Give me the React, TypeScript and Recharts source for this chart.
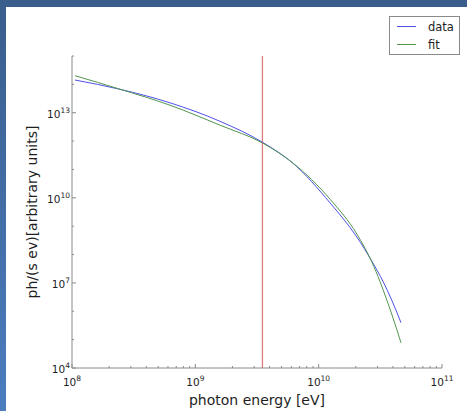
import React from 'react';
import { LineChart, Line, XAxis, YAxis, ReferenceLine } from 'recharts';

// ---- data (photon energy in eV, flux in ph/(s eV)) ----
const dataEnergy = [1.0575e8, 2.45e8, 6.232e8, 1.585e9, 3.517e9, 6.227e9, 1.2385e10, 2.039e10, 2.692e10, 3.343e10, 3.911e10, 4.652e10];
const dataFlux = [1.425e14, 6.699e13, 2.239e13, 4.986e12, 8.994e11, 1.622e11, 6.569e9, 4.156e8, 5.924e7, 1.077e7, 2.497e6, 3.956e5];
const fitEnergy = [1.0575e8, 2.45e8, 6.232e8, 1.585e9, 3.517e9, 6.227e9, 1.2385e10, 2.039e10, 2.692e10, 3.143e10, 3.516e10, 3.911e10, 4.652e10];
const fitFlux = [2.021e14, 6.752e13, 1.843e13, 3.634e12, 8.498e11, 1.648e11, 8.867e9, 5.302e8, 5.596e7, 1.112e7, 2.987e6, 8.015e5, 7.738e4];
const cutoffEnergy = 3.5e9;

const xDomain = [1e8, 1e11];
const yDomain = [1e4, 1e15];
const xMajorTicks = [1e8, 1e9, 1e10, 1e11];
const xMinorTicks = [
  2e8, 3e8, 4e8, 5e8, 6e8, 7e8, 8e8, 9e8,
  2e9, 3e9, 4e9, 5e9, 6e9, 7e9, 8e9, 9e9,
  2e10, 3e10, 4e10, 5e10, 6e10, 7e10, 8e10, 9e10,
];
const yMajorTicks = [1e4, 1e7, 1e10, 1e13];
const yMinorTicks = [1e5, 1e6, 1e8, 1e9, 1e11, 1e12, 1e14, 1e15];

const xLabel = 'photon energy [eV]';
const yLabel = 'ph/(s ev)[arbitrary units]';

const BLUE = '#5151ea';
const GREEN = '#519651';
const RED = '#e27c7c';
const AXIS = '#8a8a8a';
const FONT = '"DejaVu Sans", sans-serif';

const series = [
  { name: 'data', color: BLUE, energy: dataEnergy, flux: dataFlux },
  { name: 'fit', color: GREEN, energy: fitEnergy, flux: fitFlux },
];

const rows = (energy: number[], flux: number[]) =>
  energy.map((e, i) => ({ energy: e, flux: flux[i] }));

const xTicks = [...xMajorTicks, ...xMinorTicks];
const yTicks = [...yMajorTicks, ...yMinorTicks];

const Pow = ({ x, y, v, anchor }: any) => (
  <text x={x} y={y} textAnchor={anchor} fontSize={10.5} fill="#1e1e1e" fontFamily={FONT}>
    <tspan>10</tspan>
    <tspan dy={-5} fontSize={7.5}>{Math.round(Math.log10(v))}</tspan>
  </text>
);

const BottomTick = (props: any) => {
  const { x, y, payload } = props;
  const major = xMajorTicks.includes(payload.value);
  return (
    <g>
      <line x1={x} x2={x} y1={y} y2={y - (major ? 4 : 2)} stroke={AXIS} strokeWidth={1} />
      {major && <Pow x={x} y={y + 18} v={payload.value} anchor="middle" />}
    </g>
  );
};

const TopTick = (props: any) => {
  const { x, y, payload } = props;
  const major = xMajorTicks.includes(payload.value);
  return <line x1={x} x2={x} y1={y} y2={y + (major ? 4 : 2)} stroke={AXIS} strokeWidth={1} />;
};

const LeftTick = (props: any) => {
  const { x, y, payload } = props;
  const major = yMajorTicks.includes(payload.value);
  return (
    <g>
      <line x1={x} x2={x + (major ? 4 : 2)} y1={y} y2={y} stroke={AXIS} strokeWidth={1} />
      {major && <Pow x={x - 2} y={y + 5} v={payload.value} anchor="end" />}
    </g>
  );
};

const RightTick = (props: any) => {
  const { x, y, payload } = props;
  const major = yMajorTicks.includes(payload.value);
  return <line x1={x} x2={x - (major ? 4 : 2)} y1={y} y2={y} stroke={AXIS} strokeWidth={1} />;
};

const XLabel = ({ viewBox }: any) => (
  <text
    x={viewBox.x + viewBox.width / 2}
    y={viewBox.y + 37}
    textAnchor="middle"
    fontSize={14}
    fill="#1e1e1e"
    fontFamily={FONT}
  >
    {xLabel}
  </text>
);

const YLabel = ({ viewBox }: any) => {
  const cx = viewBox.x + 20;
  const cy = viewBox.y + viewBox.height / 2;
  return (
    <text
      x={cx}
      y={cy}
      transform={`rotate(-90 ${cx} ${cy})`}
      textAnchor="middle"
      dominantBaseline="central"
      fontSize={14}
      fill="#1e1e1e"
      fontFamily={FONT}
    >
      {yLabel}
    </text>
  );
};

export default function App() {
  return (
    <div style={{ position: 'absolute', left: 0, top: 0, width: 467, height: 411, overflow: 'hidden' }}>
      <div style={{ position: 'absolute', left: 0, top: 0, width: 467, height: 7, background: '#3a5e8c' }} />
      <div
        style={{
          position: 'absolute',
          left: 0,
          top: 0,
          width: 6,
          height: 411,
          background: 'linear-gradient(#3a5e8c, #4b7dbf)',
        }}
      />
      <div style={{ position: 'absolute', left: 6, top: 7, width: 461, height: 404, background: '#ffffff' }} />
      <div style={{ position: 'absolute', left: 0, top: 0 }}>
        <LineChart width={467} height={411} margin={{ top: 56, right: 25, left: 12, bottom: 13 }}>
          <XAxis
            xAxisId={0}
            type="number"
            dataKey="energy"
            scale="log"
            domain={xDomain}
            allowDataOverflow
            ticks={xTicks}
            interval={0}
            tick={<BottomTick />}
            tickLine={false}
            tickSize={0}
            tickMargin={0}
            height={30}
            stroke={AXIS}
            label={<XLabel />}
          />
          <XAxis
            xAxisId="top"
            orientation="top"
            type="number"
            dataKey="energy"
            scale="log"
            domain={xDomain}
            allowDataOverflow
            ticks={xTicks}
            interval={0}
            tick={<TopTick />}
            tickLine={false}
            tickSize={0}
            tickMargin={0}
            height={0}
            stroke={AXIS}
          />
          <YAxis
            yAxisId={0}
            type="number"
            scale="log"
            domain={yDomain}
            allowDataOverflow
            ticks={yTicks}
            interval={0}
            tick={<LeftTick />}
            tickLine={false}
            tickSize={0}
            tickMargin={0}
            width={60}
            stroke={AXIS}
            label={<YLabel />}
          />
          <YAxis
            yAxisId="right"
            orientation="right"
            type="number"
            scale="log"
            domain={yDomain}
            allowDataOverflow
            ticks={yTicks}
            interval={0}
            tick={<RightTick />}
            tickLine={false}
            tickSize={0}
            tickMargin={0}
            width={0}
            stroke={AXIS}
          />
          <ReferenceLine x={cutoffEnergy} xAxisId={0} yAxisId={0} stroke={RED} strokeWidth={1.3} />
          {series.map((s) => (
            <Line
              key={s.name}
              xAxisId={0}
              yAxisId={0}
              data={rows(s.energy, s.flux)}
              dataKey="flux"
              name={s.name}
              type="monotone"
              stroke={s.color}
              strokeWidth={1}
              dot={false}
              activeDot={false}
              isAnimationActive={false}
            />
          ))}
        </LineChart>
      </div>
      <div
        style={{
          position: 'absolute',
          left: 389,
          top: 16,
          width: 69,
          height: 37,
          border: '1px solid #8a8a8a',
          background: '#ffffff',
          fontFamily: FONT,
          fontSize: 11.5,
          color: '#1e1e1e',
        }}
      >
        {series.map((s, i) => (
          <div key={s.name} style={{ position: 'absolute', left: 0, top: 2 + i * 18, height: 16, width: 69 }}>
            <div style={{ position: 'absolute', left: 7, top: 7, width: 19, height: 1, background: s.color }} />
            <div style={{ position: 'absolute', left: 38, top: 0, lineHeight: '16px' }}>{s.name}</div>
          </div>
        ))}
      </div>
    </div>
  );
}
